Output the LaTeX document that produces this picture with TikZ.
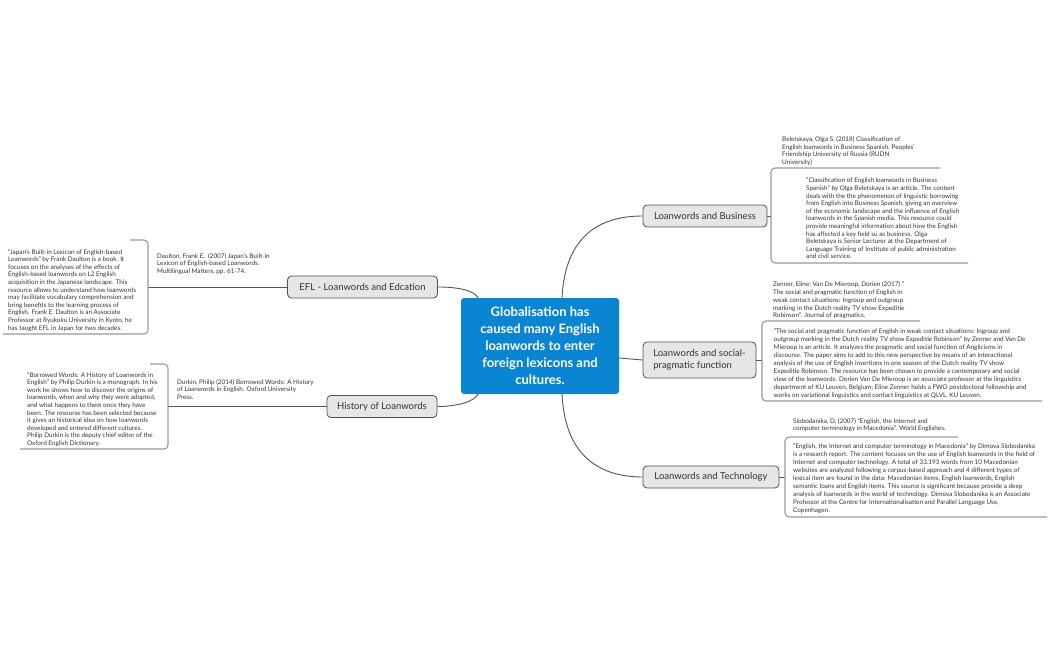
\documentclass[tikz,border=0pt]{standalone}
\usepackage{fontspec}
\setmainfont{Lato}
\usetikzlibrary{calc}
\definecolor{cblue}{HTML}{0A85D1}
\definecolor{bfill}{HTML}{E6E6E6}
\definecolor{bdraw}{HTML}{505050}
\definecolor{ink}{HTML}{333333}
\definecolor{lnk}{HTML}{555555}
\definecolor{brk}{HTML}{999999}
\tikzset{
 centre/.style={fill=cblue, rounded corners=3pt, text=white, font=\fontsize{13}{17}\selectfont\bfseries, align=center, minimum width=158pt, minimum height=96pt, inner sep=0pt},
 branch/.style={fill=bfill, draw=bdraw, line width=0.8pt, rounded corners=4pt, text=ink, font=\fontsize{9.5}{12}\selectfont, inner sep=0pt, minimum height=22pt},
 note/.style={anchor=north west, inner sep=0pt, align=left, text=ink, font=\fontsize{6.35}{7.6}\selectfont},
 conn/.style={draw=lnk, line width=0.9pt},
 brack/.style={draw=brk, line width=1.1pt, rounded corners=4pt},
}
\begin{document}
\begin{tikzpicture}[x=1pt,y=-1pt]
\useasboundingbox (0,0) rectangle (1050,650);
% main nodes
\node[centre] (c) at (540,346) {Globalisation has\\caused many English\\loanwords to enter\\foreign lexicons and\\cultures.};
\node[branch, minimum width=124pt] (bus) at (705,216) {Loanwords and Business};
\node[branch, minimum width=113pt, minimum height=36pt, align=left] (soc) at (699.5,360) {Loanwords and social-\\pragmatic function};
\node[branch, minimum width=136pt] (tec) at (711,477) {Loanwords and Technology};
\node[branch, minimum width=150pt] (efl) at (362.5,287) {EFL - Loanwords and Edcation};
\node[branch, minimum width=110pt] (his) at (382,406.5) {History of Loanwords};
% tick coordinates
\coordinate (busT) at (771,216);
\coordinate (socT) at (762,360);
\coordinate (tecT) at (785,477);
\coordinate (eflT) at (148,287);
\coordinate (hisT) at (168,406.5);
% main connectors
\draw[conn] ($(c.north)+(22,0)$) .. controls ($(c.north)+(25,-60)$) and ($(bus.west)+(-45,0)$) .. (bus.west);
\draw[conn] ($(c.south)+(22,0)$) .. controls ($(c.south)+(25,60)$) and ($(tec.west)+(-45,0)$) .. (tec.west);
\draw[conn] ($(c.north)+(-62,0)$) .. controls ($(c.north)+(-66,-8)$) and ($(efl.east)+(18,0)$) .. (efl.east);
\draw[conn] ($(c.south)+(-62,0)$) .. controls ($(c.south)+(-66,8)$) and ($(his.east)+(18,0)$) .. (his.east);
\draw[conn] ($(c.east)+(0,12)$) -- (soc.west);
% branch to bracket connectors
\draw[conn] (bus.east) -- (busT);
\draw[conn] (soc.east) -- (socT);
\draw[conn] (tec.east) -- (tecT);
\draw[conn] (efl.west) -- (eflT);
\draw[conn] (his.west) -- (hisT);
% brackets
\draw[brack] (940,168) -- (771,168) -- (771,263) -- (968,263);
\draw[brack] (920,321) -- (762,321) -- (762,401) -- (1042,401);
\draw[brack] (958,437) -- (785,437) -- (785,517) -- (1047,517);
\draw[brack] (130,240) -- (148,240) -- (148,334) -- (3,334);
\draw[brack] (150,364) -- (168,364) -- (168,449) -- (20,449);
% notes
\node[note] (jcite) at (157,253) {Daulton, Frank E.\ \ (2007) Japan's Built-in\\Lexicon of English-based Loanwords.\\Multilingual Matters, pp. 61-74.};
\node[note] (jdesc) at (8,249) {"Japan's Built-in Lexicon of English-based\\Loanwords" by Frank Daulton is a book. It\\focuses on the analyses of the effects of\\English-based loanwords on L2 English\\acquisition in the Japanese landscape. This\\resource allows to understand how loanwords\\may facilitate vocabulary comprehension and\\bring benefits to the learning process of\\English. Frank E. Daulton is an Associate\\Professor at Ryukoku University in Kyoto, he\\has taught EFL in Japan for two decades.};
\node[note] (dcite) at (177,379) {Durkin, Philip (2014) Borrowed Words: A History\\of Loanwords in English. Oxford University\\Press.};
\node[note] (ddesc) at (27,372) {"Borrowed Words: A History of Loanwords in\\English" by Philip Durkin is a monograph. In his\\work he shows how to discover the origins of\\loanwords, when and why they were adopted,\\and what happens to them once they have\\been. The resourse has been selected because\\it gives an historical idea on how loanwords\\developed and entered different cultures.\\Philip Durkin is the deputy chief editor of the\\Oxford English Dictionary.};
\node[note] (bcite) at (782,136.3) {Beletskaya, Olga S. (2018) Classification of\\English loanwords in Business Spanish. Peoples'\\Friendship University of Russia (RUDN\\University)};
\node[note] (bdesc) at (806,177.8) {"Classification of English loanwords in Business\\Spanish" by Olga Beletskaya is an article. The content\\deals with the the phenomenon of linguistic borrowing\\from English into Business Spanish, giving an overview\\of the economic landscape and the influence of English\\loanwords in the Spanish media. This resource could\\provide meaningful information about how the English\\has affected a key field su as business. Olga\\Beletskaya is Senior Lecturer at the Department of\\Language Training of Institute of public administration\\and civil service.};
\node[note, font=\fontsize{6.35}{7.75}\selectfont] (zcite) at (773,281.7) {Zenner, Eline; Van De Mieroop, Dorien (2017) "\\The social and pragmatic function of English in\\weak contact situations: Ingroup and outgroup\\marking in the Dutch reality TV show Expeditie\\Robinson". Journal of pragmatics.};
\node[note, font=\fontsize{6.35}{8}\selectfont] (zdesc) at (773.5,328) {"The social and pragmatic function of English in weak contact situations: Ingroup and\\outgroup marking in the Dutch reality TV show Expeditie Robinson" by Zenner and Van De\\Mieroop is an article. It analyzes the pragmatic and social function of Anglicisms in\\discourse. The paper aims to add to this new perspective by means of an interactional\\analysis of the use of English insertions in one season of the Dutch reality TV show\\Expeditie Robinson. The resource has been chosen to provide a contemporary and social\\view of the loanwords. Dorien Van De Mieroop is an associate professor at the linguistics\\department of KU Leuven, Belgium; Eline Zenner holds a FWO postdoctoral fellowship and\\works on variational linguistics and contact linguistics at QLVL, KU Leuven.};
\node[note, font=\fontsize{6.35}{7.4}\selectfont] (scite) at (793,418.3) {Slobodanika, D. (2007) "English, the Internet and\\computer terminology in Macedonia". World Englishes.};
\node[note, font=\fontsize{6.35}{8}\selectfont] (sdesc) at (793,443.3) {"English, the Internet and computer terminology in Macedonia" by Dimova Slobodanika\\is a research report. The content focuses on the use of English loanwords in the field of\\Internet and computer technology. A total of 33.193 words from 10 Macedonian\\websites are analyzed following a corpus-based approach and 4 different types of\\lexical item are found in the data: Macedonian items, English loanwords, English\\semantic loans and English items. This source is significant because provide a deep\\analysis of loanwords in the world of technology. Dimova Slobodanika is an Associate\\Professor at the Centre for Internationalisation and Parallel Language Use,\\Copenhagen.};
\end{tikzpicture}
\end{document}
